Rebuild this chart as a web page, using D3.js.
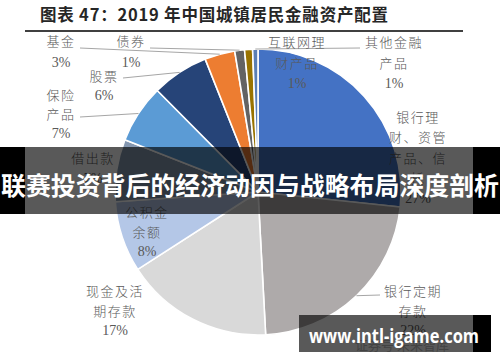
<!DOCTYPE html>
<html><head><meta charset="utf-8">
<script src="https://cdn.jsdelivr.net/npm/d3@7/dist/d3.min.js"></script>
<style>html,body{margin:0;padding:0;background:#fff;}svg{display:block;}</style>
</head><body>
<script>
// ---- data ----
const title = "图表 47：2019 年中国城镇居民金融资产配置";
const categories = ["银行理财、资管产品、信托","银行定期存款","现金及活期存款","公积金余额","借出款","保险产品","股票","基金","债券","互联网理财产品","其他金融产品"];
const values = [26.6, 22.4, 16.7, 8.0, 7.0, 6.6, 6.4, 3.4, 1.1, 0.9, 0.6];
const pctLabels = ["27%","22%","17%","8%","7%","7%","6%","3%","1%","1%","1%"];
const labelLines = [["银行理","财、资管","产品、信","托"],["银行定期","存款"],["现金及活","期存款"],["公积金","余额"],["借出款"],["保险","产品"],["股票"],["基金"],["债券"],["互联网理","财产品"],["其他金融","产品"]];
const colors = ["#4472C4","#AEAAAA","#D9D9D9","#B4C7E7","#8497B0","#5B9BD5","#264478","#ED7D31","#636363","#997300","#5B7FB5"];
const bannerText = "联赛投资背后的经济动因与战略布局深度剖析";
const watermark = "www.intl-igame.com";

// ---- layout (positions only) ----
const W = 500, H = 362, cx = 258, cy = 192, R = 143;
const labelPos = [
  {x:418,y:116,g:20.5},{x:413,y:290,g:20},{x:115,y:290,g:20},{x:147,y:211,g:20},
  {x:93,y:157,g:21},{x:61,y:94,g:19.5},{x:104,y:75,g:20},{x:61,y:40,g:22},
  {x:131,y:40,g:22},{x:297,y:41,g:21},{x:394,y:41,g:21}
];
const leaderFrom = {1:[380,295],5:[80,117],6:[123,78],7:[80,48],8:[150,48],10:[360,48]};

const svg = d3.select("body").append("svg").attr("width",W).attr("height",H);

// title
svg.append("text").attr("x",40).attr("y",21)
  .attr("font-family","'Noto Sans CJK SC', sans-serif").attr("font-weight",700)
  .attr("font-size",16.5).attr("fill","#262626")
  .attr("textLength",348).attr("lengthAdjust","spacing").text(title);
svg.append("line").attr("x1",25).attr("x2",463).attr("y1",31).attr("y2",31)
  .attr("stroke","#404040").attr("stroke-width",2);

// pie
const pie = d3.pie().sort(null).value(d=>d)(values);
const arc = d3.arc().innerRadius(0).outerRadius(R);
const g = svg.append("g").attr("transform",`translate(${cx},${cy})`);
g.selectAll("path").data(pie).join("path")
  .attr("d",arc).attr("fill",(d,i)=>colors[i])
  .attr("stroke","#fff").attr("stroke-width",1.6).attr("stroke-linejoin","round");

// leader lines
Object.keys(leaderFrom).forEach(k=>{
  const d = pie[+k];
  const a = (d.startAngle+d.endAngle)/2;
  const px = cx + R*Math.sin(a), py = cy - R*Math.cos(a);
  const [fx,fy] = leaderFrom[k];
  svg.append("line").attr("x1",fx).attr("y1",fy).attr("x2",px).attr("y2",py)
    .attr("stroke","#A6A6A6").attr("stroke-width",1);
});

// labels
labelLines.forEach((lines,i)=>{
  const p = labelPos[i];
  const t = svg.append("g").attr("fill","#595959");
  lines.forEach((s,j)=>{
    t.append("text").attr("x",p.x).attr("y",p.y+j*p.g)
      .attr("text-anchor","middle").attr("dominant-baseline","central")
      .attr("font-family","'Noto Sans CJK SC', sans-serif").attr("font-weight",300)
      .attr("font-size",13).attr("letter-spacing",1.5).text(s);
  });
  t.append("text").attr("x",p.x).attr("y",p.y+lines.length*p.g)
    .attr("text-anchor","middle").attr("dominant-baseline","central")
    .attr("font-family","'Liberation Serif', serif")
    .attr("font-size",14).text(pctLabels[i]);
});

// faint source text under watermark
svg.append("text").attr("x",355).attr("y",350)
  .attr("font-family","'Noto Sans CJK SC', sans-serif").attr("font-size",13)
  .attr("fill","#BFBFBF").text("证券号 未来智库");

// banner overlay
svg.append("rect").attr("x",0).attr("y",147).attr("width",25).attr("height",67).attr("fill","#000");
svg.append("rect").attr("x",473).attr("y",147).attr("width",27).attr("height",67).attr("fill","#000");
svg.append("rect").attr("x",25).attr("y",147).attr("width",448).attr("height",67).attr("fill","#000").attr("opacity",0.65);
svg.append("text").attr("x",250).attr("y",184)
  .attr("text-anchor","middle").attr("dominant-baseline","central")
  .attr("font-family","'Noto Sans CJK SC', sans-serif").attr("font-weight",700)
  .attr("font-size",25).attr("fill","#fff")
  .attr("textLength",498).attr("lengthAdjust","spacingAndGlyphs").text(bannerText);

// watermark overlay
svg.append("rect").attr("x",299).attr("y",315).attr("width",174).attr("height",37).attr("fill","#000").attr("opacity",0.65);
svg.append("rect").attr("x",473).attr("y",315).attr("width",18).attr("height",37).attr("fill","#000");
svg.append("text").attr("x",394).attr("y",335)
  .attr("text-anchor","middle").attr("dominant-baseline","central")
  .attr("font-family","'Open Sans', 'DejaVu Sans', sans-serif").attr("font-weight",700)
  .attr("font-size",20).attr("fill","#fff")
  .attr("textLength",170).attr("lengthAdjust","spacingAndGlyphs").text(watermark);
</script>
</body></html>
